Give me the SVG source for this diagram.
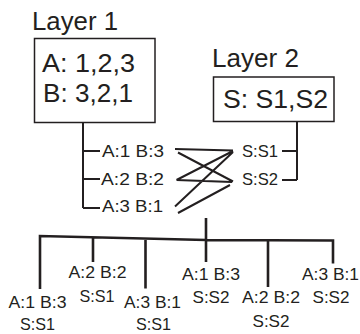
<svg xmlns="http://www.w3.org/2000/svg" width="360" height="334" viewBox="0 0 360 334">
<style>
text{font-family:"Liberation Sans",Arial,sans-serif;fill:#231f20}
.big{font-size:25px}
.sm{font-size:16.5px}
.box{fill:#fff;stroke:#231f20;stroke-width:1.5}
.ln{fill:none;stroke:#231f20;stroke-width:2}
.tr{fill:none;stroke:#231f20;stroke-width:2.6}
.c{text-anchor:middle}
</style>
<rect width="360" height="334" fill="#fff"/>
<g id="layer1">
<text class="big" x="32" y="30" textLength="86" lengthAdjust="spacingAndGlyphs">Layer 1</text>
<rect class="box" x="34.5" y="38.5" width="120.5" height="84"/>
<text class="big" x="42" y="72" textLength="93" lengthAdjust="spacingAndGlyphs">A: 1,2,3</text>
<text class="big" x="43" y="102" textLength="90" lengthAdjust="spacingAndGlyphs">B: 3,2,1</text>
</g>
<g id="layer2">
<text class="big" x="212" y="67" textLength="87" lengthAdjust="spacingAndGlyphs">Layer 2</text>
<rect class="box" x="213.5" y="77" width="120.5" height="44.5"/>
<text class="big" x="223" y="107.5" textLength="105" lengthAdjust="spacingAndGlyphs">S: S1,S2</text>
</g>
<g id="l1-items">
<text class="sm" x="102" y="156.5" textLength="62" lengthAdjust="spacingAndGlyphs">A:1 B:3</text>
<text class="sm" x="101" y="184.5" textLength="63" lengthAdjust="spacingAndGlyphs">A:2 B:2</text>
<text class="sm" x="102" y="211.5" textLength="61" lengthAdjust="spacingAndGlyphs">A:3 B:1</text>
</g>
<g id="l2-items">
<text class="sm" x="242" y="157" textLength="36" lengthAdjust="spacingAndGlyphs">S:S1</text>
<text class="sm" x="242" y="184.5" textLength="36" lengthAdjust="spacingAndGlyphs">S:S2</text>
</g>
<g id="results">
<text class="sm c" x="37.5" y="307.5" textLength="58" lengthAdjust="spacingAndGlyphs">A:1 B:3</text>
<text class="sm c" x="37.5" y="329.5" textLength="35" lengthAdjust="spacingAndGlyphs">S:S1</text>
<text class="sm c" x="97.5" y="277.5" textLength="58" lengthAdjust="spacingAndGlyphs">A:2 B:2</text>
<text class="sm c" x="97" y="302" textLength="35" lengthAdjust="spacingAndGlyphs">S:S1</text>
<text class="sm c" x="152.5" y="307.5" textLength="57" lengthAdjust="spacingAndGlyphs">A:3 B:1</text>
<text class="sm c" x="153.5" y="329.5" textLength="35" lengthAdjust="spacingAndGlyphs">S:S1</text>
<text class="sm c" x="211" y="279.5" textLength="58" lengthAdjust="spacingAndGlyphs">A:1 B:3</text>
<text class="sm c" x="211" y="303" textLength="37" lengthAdjust="spacingAndGlyphs">S:S2</text>
<text class="sm c" x="271" y="303" textLength="58" lengthAdjust="spacingAndGlyphs">A:2 B:2</text>
<text class="sm c" x="271" y="326.5" textLength="37" lengthAdjust="spacingAndGlyphs">S:S2</text>
<text class="sm c" x="330.5" y="279.5" textLength="57" lengthAdjust="spacingAndGlyphs">A:3 B:1</text>
<text class="sm c" x="331" y="303" textLength="37" lengthAdjust="spacingAndGlyphs">S:S2</text>
</g>
<g id="connectors">
<path class="ln" d="M83,122.5 V208 M83,151 H100 M83,179 H100 M83,208 H100"/>
<path class="ln" d="M297,122 V180 M282,151 H297 M282,180 H297"/>
<path class="ln" d="M175,149 L233,150.5 M178,152.5 L233,181.5 M176.5,180 L233,151 M176.5,180 L232,182 M175,206.5 L233,152 M178,213 L230,185"/>
<path class="tr" d="M206,218 V262 M40,289 V236 L206,240 L333,240.5 V263.5 M93,237 V262 M145.5,238.5 V288.5 M268,240.2 V287"/>
</g>
</svg>
